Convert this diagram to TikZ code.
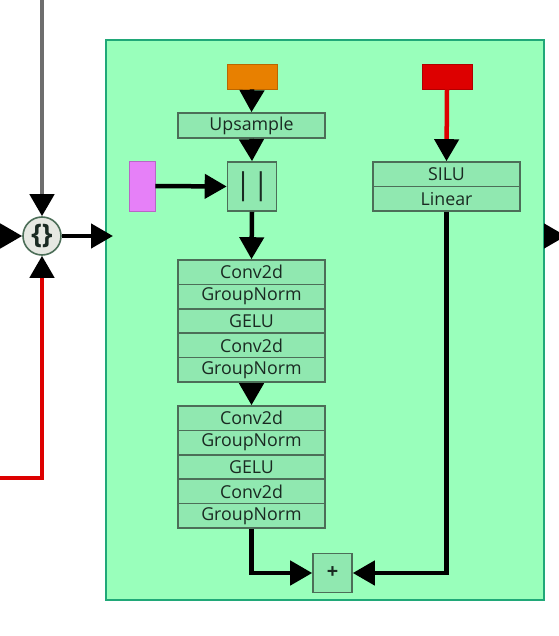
\documentclass[tikz,border=0pt]{standalone}
\usepackage{fontspec}
\setmainfont{Open Sans}
\usetikzlibrary{arrows.meta}
\definecolor{bigfill}{HTML}{99FFBB}
\definecolor{bigdraw}{HTML}{20A878}
\definecolor{blkfill}{HTML}{90E8B0}
\definecolor{blkdraw}{HTML}{4C6E58}
\definecolor{txt}{HTML}{1A2A22}
\definecolor{orng}{HTML}{E88000}
\definecolor{redc}{HTML}{DD0000}
\definecolor{pink}{HTML}{E680F8}
\definecolor{grayl}{HTML}{6E6E6E}
\definecolor{circfill}{HTML}{E6E8E2}
\tikzset{
  blk/.style={draw=blkdraw, fill=blkfill, line width=1.6pt, text=txt, inner sep=0pt,
    font=\fontsize{17.8}{18}\selectfont, minimum width=147pt, minimum height=24.4pt},
  sq/.style={draw=blkdraw, fill=blkfill, line width=1.6pt, text=txt, inner sep=0pt},
  inp/.style={draw=#1!80!black, fill=#1, line width=0.8pt, inner sep=0pt},
  conn/.style={line width=4.5pt, -{Triangle[length=22pt,width=24pt,black]}},
}
\begin{document}
\begin{tikzpicture}[x=1pt,y=-1pt]
\useasboundingbox (0,0) rectangle (558,636);
% big box
\node[draw=bigdraw, fill=bigfill, line width=2pt, minimum width=438pt, minimum height=560pt, inner sep=0pt] (big) at (325,320) {};
% circle
\node[circle, draw=blkdraw, fill=circfill, line width=1.6pt, minimum size=38pt, inner sep=0pt, text=txt,
  font=\fontsize{27}{27}\selectfont\bfseries] (circ) at (42,236) {\{\}};
\coordinate (gtop) at (42,-2);
\coordinate (lin) at (-2,236);
\coordinate (bin) at (113,236);
\coordinate (rstart) at (-2,478);
\coordinate (rcorner) at (42,478);
\coordinate (rout) at (566,236);
\draw[conn, grayl] (gtop) -- (circ.north);
\draw[conn] (lin) -- (circ.west);
\draw[conn] (circ.east) -- (bin);
\draw[conn, redc] (rstart) -- (rcorner) -- (circ.south);
\draw[conn] (big.east |- bin) -- (rout);
% inputs
\node[inp=orng, minimum width=50pt, minimum height=25pt] (org) at (252,76.5) {};
\node[inp=redc, minimum width=50pt, minimum height=25pt] (red) at (447,76.5) {};
\node[inp=pink, minimum width=26pt, minimum height=50pt] (pnk) at (142,186) {};
% left column
\node[blk, minimum height=25pt] (up) at (251.5,125.5) {Upsample};
\node[sq, minimum size=49pt, font=\fontsize{30}{30}\selectfont] (cat) at (252,186.5) {|\kern1pt|};
\node[blk] (s1a) at (251.5,272.2) {Conv2d};
\node[blk] (s1b) at (251.5,296.6) {GroupNorm};
\node[blk] (s1c) at (251.5,321.0) {GELU};
\node[blk] (s1d) at (251.5,345.4) {Conv2d};
\node[blk] (s1e) at (251.5,369.8) {GroupNorm};
\node[blk] (s2a) at (251.5,418.2) {Conv2d};
\node[blk] (s2b) at (251.5,442.6) {GroupNorm};
\node[blk] (s2c) at (251.5,467.0) {GELU};
\node[blk] (s2d) at (251.5,491.4) {Conv2d};
\node[blk] (s2e) at (251.5,515.8) {GroupNorm};
% right column
\node[blk] (silu) at (446.5,174.2) {SILU};
\node[blk] (lin2) at (446.5,198.6) {Linear};
% plus
\node[sq, minimum size=39pt, font=\fontsize{20}{20}\selectfont\bfseries] (plus) at (332.5,573) {+};
% connectors
\draw[conn] (org.south) -- (up.north);
\draw[conn] (up.south) -- (cat.north);
\draw[conn] (pnk.east) -- (cat.west);
\draw[conn] (cat.south) -- (s1a.north);
\draw[conn] (s1e.south) -- (s2a.north);
\draw[conn, redc] (red.south) -- (silu.north);
\draw[conn] (s2e.south) |- (plus.west);
\draw[conn] (lin2.south) |- (plus.east);
\end{tikzpicture}
\end{document}
